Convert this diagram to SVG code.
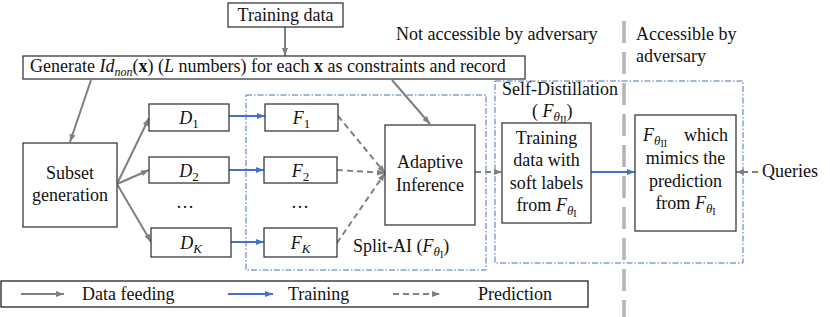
<svg xmlns="http://www.w3.org/2000/svg" width="830" height="317" viewBox="0 0 830 317" font-family="'Liberation Serif', 'Times New Roman', 'DejaVu Serif', serif">
<style>
text{font-family:'Liberation Serif','Times New Roman','DejaVu Serif',serif;font-size:18px;fill:#111}
.box{fill:#fff;stroke:#3a3a3a;stroke-width:1.3}
.region{fill:none;stroke:#4a72c0;stroke-width:1;stroke-dasharray:6 2 1.5 2}
.feed{fill:none;stroke:#7f7f7f;stroke-width:2}
.train{fill:none;stroke:#4472c4;stroke-width:2}
.pred{fill:none;stroke:#7f7f7f;stroke-width:2;stroke-dasharray:6 4}
.c{text-anchor:middle}
.i{font-style:italic}
.sub{font-size:13px}
.ss{font-size:10px}
</style>
<defs>
<marker id="ag" markerUnits="userSpaceOnUse" markerWidth="9" markerHeight="7" refX="8" refY="3.5" orient="auto"><path d="M0,0.5 L8,3.5 L0,6.5 z" fill="#7f7f7f"/></marker>
<marker id="ab" markerUnits="userSpaceOnUse" markerWidth="9" markerHeight="7" refX="8" refY="3.5" orient="auto"><path d="M0,0.5 L8,3.5 L0,6.5 z" fill="#4472c4"/></marker>
</defs>

<!-- regions -->
<g id="split-ai-region">
<rect class="region" x="246" y="95" width="240" height="175"/>
<text x="353" y="252">Split-AI (<tspan class="i">F</tspan><tspan class="i sub" dy="4">θ</tspan><tspan class="ss" dy="2">I</tspan><tspan dy="-6">)</tspan></text>
</g>
<g id="self-distillation-region">
<rect class="region" x="495" y="81" width="248" height="182"/>
<text x="502" y="95">Self-Distillation</text>
<text x="532" y="117">( <tspan class="i">F</tspan><tspan class="i sub" dy="4">θ</tspan><tspan class="ss" dy="2">II</tspan><tspan dy="-6">)</tspan></text>
</g>

<!-- boundary -->
<g id="boundary">
<line x1="624" y1="21" x2="624" y2="317" stroke="#b4b4b4" stroke-width="3.5" stroke-dasharray="22 9"/>
<text x="396" y="40">Not accessible by adversary</text>
<text x="636" y="40">Accessible by</text>
<text x="636" y="62">adversary</text>
</g>

<!-- connectors -->
<g id="connectors">
<line class="feed" x1="285" y1="27" x2="285" y2="56" marker-end="url(#ag)"/>
<line class="feed" x1="91" y1="80" x2="70" y2="142" marker-end="url(#ag)"/>
<line class="feed" x1="392" y1="80" x2="430" y2="124" marker-end="url(#ag)"/>
<line class="feed" x1="117" y1="184" x2="149" y2="118" marker-end="url(#ag)"/>
<line class="feed" x1="117" y1="184" x2="149" y2="170" marker-end="url(#ag)"/>
<line class="feed" x1="117" y1="184" x2="151" y2="242" marker-end="url(#ag)"/>
<line class="train" x1="229" y1="116" x2="265" y2="116" marker-end="url(#ab)"/>
<line class="train" x1="229" y1="170" x2="264" y2="170" marker-end="url(#ab)"/>
<line class="train" x1="231" y1="242" x2="264" y2="242" marker-end="url(#ab)"/>
<line class="pred" x1="338" y1="116" x2="385" y2="173" marker-end="url(#ag)"/>
<line class="pred" x1="337" y1="170" x2="385" y2="173" marker-end="url(#ag)"/>
<line class="pred" x1="337" y1="243" x2="385" y2="173" marker-end="url(#ag)"/>
<line class="pred" x1="475" y1="172" x2="502" y2="172" marker-end="url(#ag)"/>
<line class="train" x1="591" y1="172" x2="635" y2="172" marker-end="url(#ab)"/>
<line class="pred" x1="758" y1="172" x2="736" y2="172" marker-end="url(#ag)"/>
</g>

<!-- nodes -->
<g id="training-data">
<rect class="box" x="228" y="3" width="115" height="24"/>
<text class="c" x="285.5" y="21">Training data</text>
</g>
<g id="generate">
<rect class="box" x="23" y="56" width="502" height="23"/>
<text x="30" y="72">Generate <tspan class="i">Id</tspan><tspan class="i" font-size="12" dy="4">non</tspan><tspan dy="-4">(</tspan><tspan font-weight="bold">x</tspan>) (<tspan class="i">L</tspan> numbers) for each <tspan font-weight="bold">x</tspan> as constraints and record</text>
</g>
<g id="subset-generation">
<rect class="box" x="23" y="143" width="94" height="84"/>
<text class="c" x="70" y="179">Subset</text>
<text class="c" x="70" y="201">generation</text>
</g>
<g id="d1">
<rect class="box" x="149" y="104" width="80" height="27"/>
<text class="c" x="189" y="124"><tspan class="i">D</tspan><tspan class="sub" dy="4">1</tspan></text>
</g>
<g id="d2">
<rect class="box" x="149" y="157" width="80" height="26"/>
<text class="c" x="189" y="177"><tspan class="i">D</tspan><tspan class="sub" dy="4">2</tspan></text>
</g>
<text x="185" y="208" class="c">…</text>
<g id="dk">
<rect class="box" x="151" y="228" width="80" height="29"/>
<text class="c" x="191" y="249"><tspan class="i">D</tspan><tspan class="i sub" dy="4">K</tspan></text>
</g>
<g id="f1">
<rect class="box" x="265" y="104" width="73" height="27"/>
<text class="c" x="301.5" y="124"><tspan class="i">F</tspan><tspan class="sub" dy="4">1</tspan></text>
</g>
<g id="f2">
<rect class="box" x="264" y="157" width="73" height="26"/>
<text class="c" x="300.5" y="177"><tspan class="i">F</tspan><tspan class="sub" dy="4">2</tspan></text>
</g>
<text x="300" y="208" class="c">…</text>
<g id="fk">
<rect class="box" x="264" y="228" width="73" height="29"/>
<text class="c" x="300.5" y="249"><tspan class="i">F</tspan><tspan class="i sub" dy="4">K</tspan></text>
</g>
<g id="adaptive-inference">
<rect class="box" x="385" y="125" width="90" height="100"/>
<text class="c" x="430" y="168">Adaptive</text>
<text class="c" x="430" y="191">Inference</text>
</g>
<g id="soft-labels">
<rect class="box" x="502" y="123" width="89" height="100"/>
<text class="c" x="546.5" y="144">Training</text>
<text class="c" x="546.5" y="166">data with</text>
<text class="c" x="546.5" y="189">soft labels</text>
<text class="c" x="546.5" y="211">from <tspan class="i">F</tspan><tspan class="i sub" dy="4">θ</tspan><tspan class="ss" dy="2">I</tspan></text>
</g>
<g id="student">
<rect class="box" x="635" y="115" width="101" height="116"/>
<text x="643" y="141"><tspan class="i">F</tspan><tspan class="i sub" dy="4">θ</tspan><tspan class="ss" dy="2">II</tspan></text>
<text x="684" y="141">which</text>
<text class="c" x="685.5" y="164">mimics the</text>
<text class="c" x="685.5" y="187">prediction</text>
<text class="c" x="685.5" y="209">from <tspan class="i">F</tspan><tspan class="i sub" dy="4">θ</tspan><tspan class="ss" dy="2">I</tspan></text>
</g>
<g id="queries">
<text x="762" y="177">Queries</text>
</g>

<!-- legend -->
<g id="legend">
<rect x="1" y="281" width="587" height="26" fill="#fff" stroke="#222" stroke-width="1.3"/>
<line class="feed" x1="21" y1="294" x2="64" y2="294" marker-end="url(#ag)"/>
<text x="82" y="300">Data feeding</text>
<line class="train" x1="228" y1="294" x2="273" y2="294" marker-end="url(#ab)"/>
<text x="288" y="300">Training</text>
<line class="pred" x1="393" y1="294" x2="440" y2="294" marker-end="url(#ag)"/>
<text x="478" y="300">Prediction</text>
</g>
</svg>
